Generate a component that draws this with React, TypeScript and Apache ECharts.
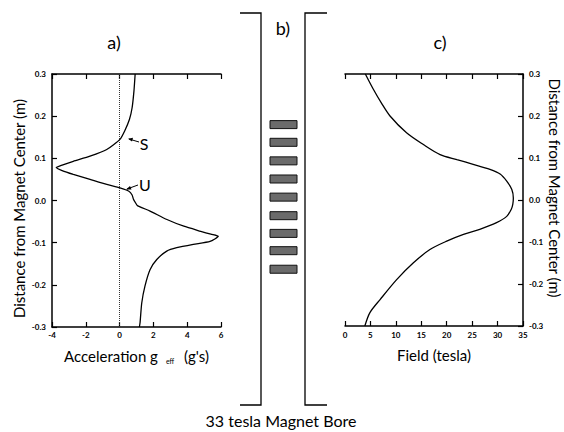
import React, { useEffect, useRef } from "react";
import * as echarts from "echarts";

// Panel a: effective acceleration (g's) vs distance from magnet center (m)
const accelPos = [
  0.30, 0.26, 0.22, 0.192, 0.165, 0.145, 0.121, 0.105, 0.093, 0.084, 0.078,
  0.071, 0.062, 0.050, 0.038, 0.030, 0.022, 0.013, 0.003, -0.006, -0.012,
  -0.025, -0.045, -0.061, -0.073, -0.080, -0.085, -0.097, -0.104, -0.112,
  -0.120, -0.140, -0.164, -0.203, -0.243, -0.290, -0.30,
];
const accelG = [
  0.92, 0.85, 0.74, 0.58, 0.3, 0.02, -0.76, -1.75, -2.74, -3.4, -3.75,
  -3.4, -2.74, -1.75, -0.76, 0.02, 0.55, 0.74, 0.82, 0.95, 1.05,
  1.8, 2.8, 3.8, 4.8, 5.4, 5.84, 5.35, 4.36, 3.38,
  2.79, 2.2, 1.8, 1.5, 1.31, 1.21, 1.17,
];

// Panel c: magnetic field (tesla) vs distance from magnet center (m)
const fieldPos = [
  0.30, 0.263, 0.23, 0.20, 0.16, 0.132, 0.108, 0.096, 0.085, 0.073, 0.062,
  0.045, 0.025, 0.005, -0.01, -0.022, -0.039, -0.054, -0.070, -0.082,
  -0.098, -0.118, -0.150, -0.189, -0.237, -0.268, -0.30,
];
const fieldB = [
  4.0, 5.6, 7.2, 8.85, 12.1, 15.4, 18.7, 22.0, 25.2, 28.5, 30.5,
  31.8, 32.8, 33.1, 33.0, 32.7, 31.8, 29.8, 26.5, 23.3,
  20.0, 16.7, 13.4, 10.2, 6.9, 4.9, 3.9,
];

// Panel b: coil centers (m)
const coilPos = [0.180, 0.138, 0.094, 0.051, 0.008, -0.036, -0.078, -0.119, -0.163];
const coilHalf = 0.0095;

const distTicks = ["-0.3", "-0.2", "-0.1", "0.0", "0.1", "0.2", "0.3"];

const FONT = "Lato";
const tickLabel = { fontSize: 8, fontWeight: "bold" as const, color: "#000", fontFamily: FONT };
const axisLine = { show: true, onZero: false, lineStyle: { color: "#000", width: 1.5 } };
const axisTick = { show: true, inside: true, length: 5, lineStyle: { color: "#000", width: 1.2 } };

export default function App() {
  const ref = useRef<HTMLDivElement>(null);
  useEffect(() => {
    if (!ref.current) return;
    const chart = echarts.init(ref.current, null, { renderer: "svg" });
    const distFmt = (v: number) => {
      const i = Math.round(v * 10) + 3;
      return distTicks[i] ?? v.toFixed(1);
    };
    const yBase = {
      type: "value" as const,
      min: -0.3,
      max: 0.3,
      interval: 0.1,
      splitLine: { show: false },
      axisLine,
      axisTick,
    };
    const option: any = {
      animation: false,
      backgroundColor: "#fff",
      grid: [
        { left: 52, top: 74, width: 169, height: 253 },
        { left: 345, top: 74, width: 178, height: 252 },
        { left: 270, top: 74, width: 27, height: 253 },
      ],
      xAxis: [
        {
          gridIndex: 0, type: "value", min: -4, max: 6, interval: 2, position: "bottom",
          splitLine: { show: false }, axisLine, axisTick,
          axisLabel: { ...tickLabel, margin: 4 },
          name: "Acceleration g{sub|eff} (g's)",
          nameLocation: "middle", nameGap: 20,
          nameTextStyle: {
            fontSize: 15, color: "#000", fontFamily: FONT,
            rich: { sub: { fontSize: 7, fontFamily: FONT, color: "#000", padding: [10, 6, 0, 8] } },
          },
        },
        {
          gridIndex: 0, type: "value", min: -4, max: 6, interval: 2, position: "top",
          splitLine: { show: false }, axisLine, axisTick, axisLabel: { show: false },
        },
        {
          gridIndex: 1, type: "value", min: 0, max: 35, interval: 5, position: "bottom",
          splitLine: { show: false }, axisLine, axisTick,
          axisLabel: { ...tickLabel, margin: 5 },
          name: "Field (tesla)", nameLocation: "middle", nameGap: 21,
          nameTextStyle: { fontSize: 15, color: "#000", fontFamily: FONT },
        },
        {
          gridIndex: 1, type: "value", min: 0, max: 35, interval: 5, position: "top",
          splitLine: { show: false }, axisLine, axisTick, axisLabel: { show: false },
        },
        { gridIndex: 2, type: "value", min: 0, max: 1, show: false },
      ],
      yAxis: [
        {
          ...yBase, gridIndex: 0, position: "left",
          axisLabel: { ...tickLabel, margin: 6, formatter: distFmt },
          name: "Distance from Magnet Center (m)", nameLocation: "middle", nameGap: 26,
          nameTextStyle: { fontSize: 15, color: "#000", fontFamily: FONT, padding: [0, 16, 0, 0] },
        },
        {
          ...yBase, gridIndex: 1, position: "right",
          axisLabel: { ...tickLabel, margin: 6, formatter: distFmt },
          name: "Distance from Magnet Center (m)", nameLocation: "middle", nameGap: 24,
          nameRotate: -90,
          nameTextStyle: { fontSize: 15, color: "#000", fontFamily: FONT, padding: [0, 24, 0, 0] },
        },
        { gridIndex: 2, type: "value", min: -0.3, max: 0.3, show: false },
      ],
      series: [
        {
          type: "line", xAxisIndex: 0, yAxisIndex: 0,
          data: accelG.map((g, i) => [g, accelPos[i]]),
          showSymbol: false, smooth: 0.2,
          lineStyle: { color: "#000", width: 1.3 },
          markLine: {
            silent: true, symbol: "none", label: { show: false },
            lineStyle: { color: "#333", type: "dotted", width: 1 },
            data: [{ xAxis: 0 }],
          },
        },
        {
          type: "line", xAxisIndex: 2, yAxisIndex: 1,
          data: fieldB.map((b, i) => [b, fieldPos[i]]),
          showSymbol: false, smooth: 0.3,
          lineStyle: { color: "#000", width: 1.3 },
        },
        {
          type: "custom", xAxisIndex: 4, yAxisIndex: 2,
          data: coilPos.map((p) => [0, p]),
          renderItem: (_params: any, api: any) => {
            const yc = api.value(1);
            const p0 = api.coord([0, yc + coilHalf]);
            const p1 = api.coord([1, yc - coilHalf]);
            return {
              type: "rect",
              shape: { x: p0[0], y: p0[1], width: p1[0] - p0[0], height: p1[1] - p0[1] },
              style: { fill: "#6b6b6b", stroke: "#111", lineWidth: 1 },
            };
          },
        },
      ],
      graphic: [
        { type: "polyline", shape: { points: [[240, 13], [261, 13], [261, 405], [240, 405]] }, style: { stroke: "#000", lineWidth: 1.3, fill: null } },
        { type: "polyline", shape: { points: [[327, 13], [305, 13], [305, 405], [327, 405]] }, style: { stroke: "#000", lineWidth: 1.3, fill: null } },
        { type: "text", x: 114, y: 42, style: { text: "a)", fontSize: 18, fontFamily: FONT, fill: "#000", align: "center", verticalAlign: "middle" } },
        { type: "text", x: 283, y: 28, style: { text: "b)", fontSize: 18, fontFamily: FONT, fill: "#000", align: "center", verticalAlign: "middle" } },
        { type: "text", x: 440, y: 42, style: { text: "c)", fontSize: 18, fontFamily: FONT, fill: "#000", align: "center", verticalAlign: "middle" } },
        { type: "text", x: 281, y: 420, style: { text: "33 tesla Magnet Bore", fontSize: 16, fontFamily: FONT, fill: "#000", align: "center", verticalAlign: "middle" } },
        { type: "text", x: 144, y: 143, style: { text: "S", fontSize: 16, fontFamily: FONT, fill: "#000", align: "center", verticalAlign: "middle" } },
        { type: "line", shape: { x1: 129, y1: 139, x2: 139, y2: 142 }, style: { stroke: "#000", lineWidth: 1 } },
        { type: "polygon", shape: { points: [[128, 138.7], [133, 137.8], [132, 141.5]] }, style: { fill: "#000" } },
        { type: "text", x: 145, y: 184, style: { text: "U", fontSize: 16, fontFamily: FONT, fill: "#000", align: "center", verticalAlign: "middle" } },
        { type: "line", shape: { x1: 127, y1: 189, x2: 138, y2: 185 }, style: { stroke: "#000", lineWidth: 1 } },
        { type: "polygon", shape: { points: [[126, 189.5], [130, 186], [131.5, 189.5]] }, style: { fill: "#000" } },
      ],
    };
    chart.setOption(option);
    return () => chart.dispose();
  }, []);
  return (
    <div
      ref={ref}
      style={{ position: "fixed", left: 0, top: 0, width: 564, height: 432, background: "#fff" }}
    />
  );
}
